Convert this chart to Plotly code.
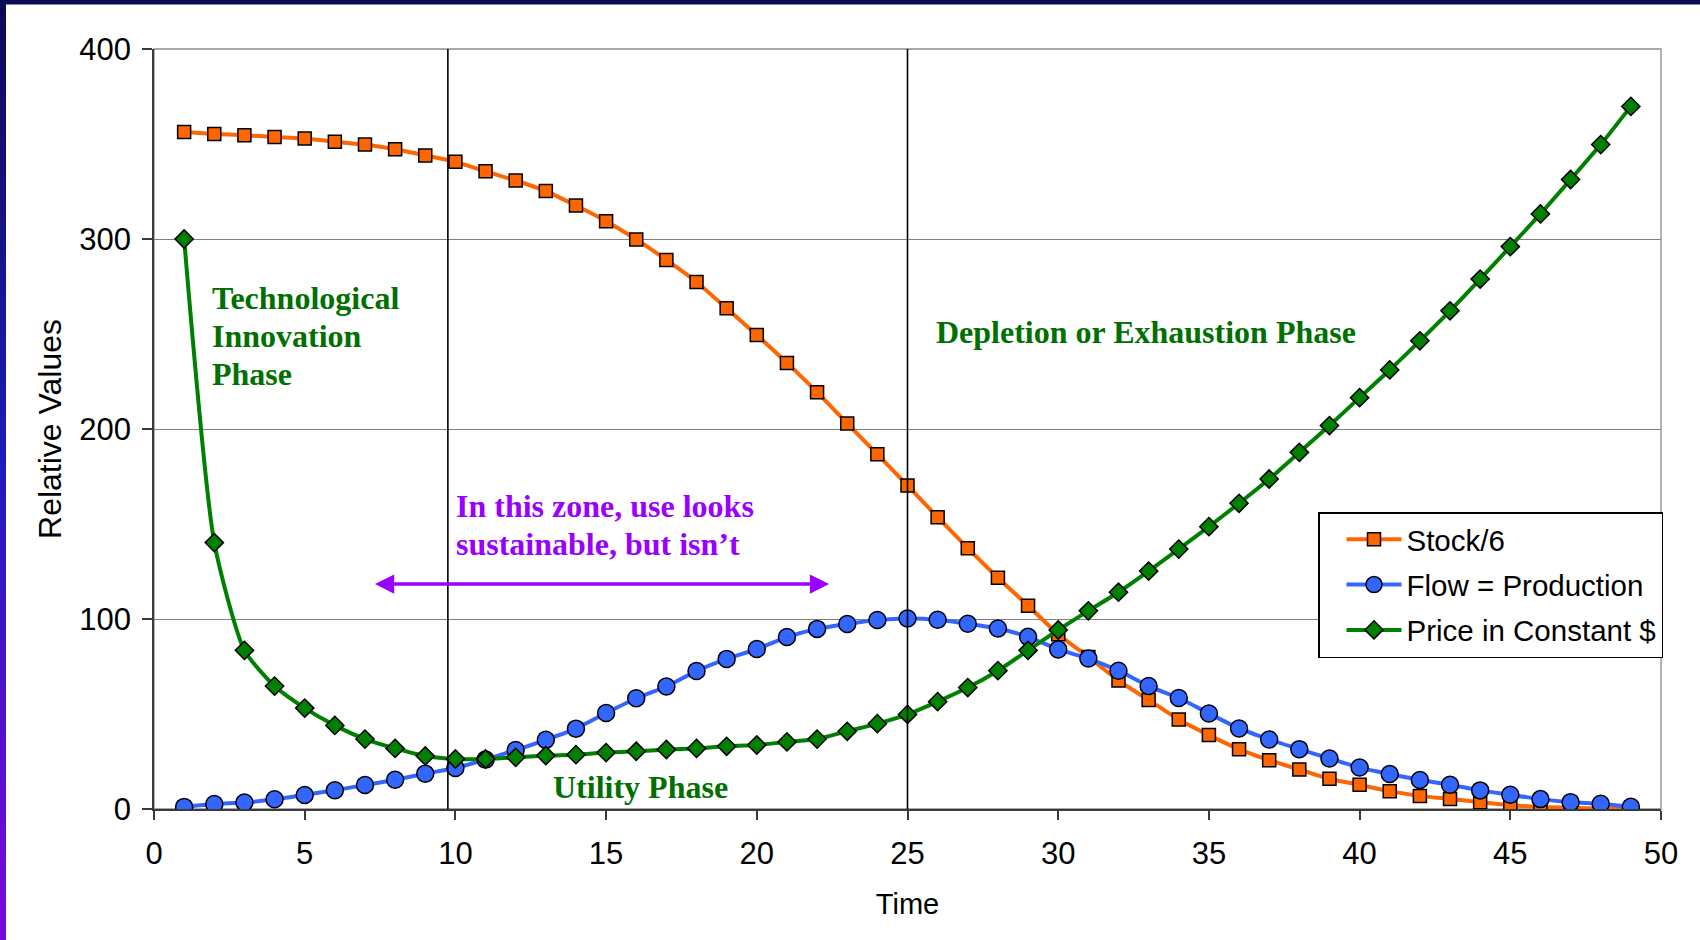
import plotly.graph_objects as go

# ---- data -------------------------------------------------------------
time = list(range(1, 50))

stock_div6 = [
    356.3, 355.3, 354.6, 353.7, 352.9, 351.2, 349.7, 347.2, 344.0, 340.6,
    335.6, 330.8, 325.2, 317.6, 309.4, 299.8, 289.0, 277.4, 263.5, 249.5,
    234.8, 219.4, 202.9, 186.7, 170.3, 153.6, 137.3, 121.7, 107.0, 92.0,
    80.0, 67.6, 57.4, 47.1, 38.9, 31.5, 25.7, 20.8, 15.9, 12.7,
    9.4, 6.9, 5.3, 3.6, 2.0, 1.1, 0.7, 0.2, 0.1,
]

flow_production = [
    1.1, 2.6, 3.4, 5.1, 7.4, 9.9, 12.6, 15.4, 18.6, 21.6,
    26.0, 31.0, 36.4, 42.3, 50.5, 58.3, 64.5, 72.6, 79.0, 84.2,
    90.5, 94.8, 97.4, 99.5, 100.3, 99.6, 97.5, 95.0, 90.6, 84.0,
    79.2, 72.8, 64.7, 58.4, 50.3, 42.4, 36.6, 31.5, 26.6, 21.8,
    18.4, 15.3, 12.8, 9.8, 7.5, 5.2, 3.6, 2.8, 1.2,
]

price_constant = [
    300.0, 140.2, 83.5, 64.7, 53.1, 44.0, 36.8, 31.9, 27.9, 26.3,
    26.3, 27.2, 28.1, 28.6, 29.7, 30.4, 31.3, 31.9, 33.0, 33.7,
    35.3, 36.8, 40.9, 44.9, 49.8, 56.5, 63.9, 72.8, 83.5, 94.2,
    104.3, 114.1, 125.2, 136.8, 148.6, 160.9, 173.7, 187.7, 201.8, 216.5,
    231.1, 246.4, 262.2, 278.9, 296.0, 313.2, 331.3, 349.7, 369.8,
]

series_names = ["Stock/6", "Flow = Production", "Price in Constant $"]
phase_boundaries = [9.75, 25]

x_ticks = list(range(0, 51, 5))
y_ticks = list(range(0, 401, 100))

# ---- page geometry ----------------------------------------------------
W, H = 1700, 940
ML, MR, MT, MB = 154, 39, 49, 131
PW, PH = W - ML - MR, H - MT - MB


def paper_x(px):
    return (px - ML) / PW


def paper_y(py):
    return (H - MB - py) / PH


ORANGE = "#FF6600"
BLUE = "#3366FF"
GREEN = "#008000"
TEXT_GREEN = "#007000"
PURPLE = "#9900FF"
SANS = "Liberation Sans, Arial, sans-serif"
SERIF = "Liberation Serif, Times New Roman, serif"

fig = go.Figure()

fig.add_trace(go.Scatter(
    x=time, y=stock_div6, name=series_names[0], mode="lines+markers",
    legendgroup="g1",
    line=dict(color=ORANGE, width=4, shape="spline", smoothing=0.6),
    marker=dict(symbol="square", size=13, color=ORANGE,
                line=dict(color="black", width=1.5)),
))
fig.add_trace(go.Scatter(
    x=time, y=flow_production, name=series_names[1], mode="lines+markers",
    legendgroup="g2",
    line=dict(color=BLUE, width=4, shape="spline", smoothing=0.6),
    marker=dict(symbol="circle", size=17, color=BLUE,
                line=dict(color="black", width=1.5)),
))
fig.add_trace(go.Scatter(
    x=time, y=price_constant, name=series_names[2], mode="lines+markers",
    legendgroup="g3",
    line=dict(color=GREEN, width=4, shape="spline", smoothing=0.6),
    marker=dict(symbol="diamond", size=14, color=GREEN,
                line=dict(color="black", width=1.5)),
))

shapes = []

# plot-area frame
shapes.append(dict(type="rect", xref="paper", yref="paper", x0=0, x1=1, y0=0, y1=1,
                   line=dict(color="#8c8c8c", width=1.3), layer="below"))

# phase boundary lines
for xb in phase_boundaries:
    shapes.append(dict(type="line", xref="x", yref="y", x0=xb, x1=xb, y0=0, y1=400,
                       line=dict(color="black", width=1.6), layer="above"))

# slide frame: dark band along the top, blue-to-violet band down the left
shapes.append(dict(type="rect", xref="paper", yref="paper",
                   x0=paper_x(0), x1=paper_x(W), y0=paper_y(4.5), y1=paper_y(0),
                   line=dict(width=0), fillcolor="#0a0a52", layer="below"))


def lerp(c1, c2, t):
    return tuple(round(a + (b - a) * t) for a, b in zip(c1, c2))


stops = [(0, (10, 10, 85)), (470, (34, 26, 190)), (940, (122, 10, 216))]
n_slices = 47
for i in range(n_slices):
    y0 = H * i / n_slices
    y1 = H * (i + 1) / n_slices
    ym = (y0 + y1) / 2
    for (ya, ca), (yb, cb) in zip(stops[:-1], stops[1:]):
        if ya <= ym <= yb:
            col = lerp(ca, cb, (ym - ya) / (yb - ya))
            break
    shapes.append(dict(type="rect", xref="paper", yref="paper",
                       x0=paper_x(0), x1=paper_x(6), y0=paper_y(y1 + 0.5), y1=paper_y(y0),
                       line=dict(width=0), fillcolor="rgb(%d,%d,%d)" % col, layer="below"))

annotations = []


def label(text, x, y, color, xanchor="left", size=32):
    annotations.append(dict(
        text=text, x=x, y=y, xref="x", yref="y", showarrow=False,
        xanchor=xanchor, yanchor="middle",
        font=dict(family=SERIF, size=size, color=color, weight="bold"),
    ))


label("Technological", 1.87, 269.0, TEXT_GREEN)
label("Innovation", 1.87, 249.0, TEXT_GREEN)
label("Phase", 1.87, 229.0, TEXT_GREEN)
label("Depletion or Exhaustion Phase", 25.87, 251.2, TEXT_GREEN)
label("Utility Phase", 16.14, 11.8, TEXT_GREEN, xanchor="center")
label("In this zone, use looks", 9.95, 159.5, PURPLE)
label("sustainable, but isn\u2019t", 9.95, 139.5, PURPLE)

# two-headed arrow spanning the deceptive zone
annotations.append(dict(
    x=22.4, y=118.4, ax=7.28, ay=118.4, xref="x", yref="y", axref="x", ayref="y",
    text="", showarrow=True, arrowside="end+start",
    arrowhead=2, startarrowhead=2, arrowsize=1.1, startarrowsize=1.1,
    arrowwidth=3.5, arrowcolor=PURPLE, standoff=0, startstandoff=0,
))

fig.update_layout(
    width=W, height=H,
    margin=dict(l=ML, r=MR, t=MT, b=MB, autoexpand=False),
    paper_bgcolor="white", plot_bgcolor="white",
    font=dict(family=SANS, size=29, color="black"),
    shapes=shapes, annotations=annotations,
    showlegend=True,
    legend=dict(
        x=paper_x(1318), y=paper_y(512), xanchor="left", yanchor="top",
        bgcolor="white", bordercolor="black", borderwidth=1.5,
        font=dict(family=SANS, size=29.5, color="black"),
        tracegroupgap=4, traceorder="grouped",
        indentation=22, itemwidth=55,
    ),
    xaxis=dict(
        range=[0, 50], tickvals=x_ticks, showgrid=False, zeroline=False,
        showline=True, linecolor="#3a3a3a", linewidth=1.5,
        ticks="outside", ticklen=9, tickwidth=1.5, tickcolor="#3a3a3a",
        tickfont=dict(family=SANS, size=31, color="black"),
        ticklabelstandoff=7,
        title=dict(text="Time", font=dict(family=SANS, size=29, color="black"), standoff=24),
        automargin=False,
    ),
    yaxis=dict(
        range=[0, 400], tickvals=y_ticks, showgrid=True, gridcolor="#808080", gridwidth=1.3,
        zeroline=False, showline=True, linecolor="#3a3a3a", linewidth=1.5,
        ticks="outside", ticklen=10, tickwidth=1.5, tickcolor="#3a3a3a",
        tickfont=dict(family=SANS, size=31, color="black"),
        ticklabelstandoff=5,
        title=dict(text="Relative Values", font=dict(family=SANS, size=32, color="black"), standoff=8),
        automargin=False,
    ),
)

fig.write_html("out.html")
